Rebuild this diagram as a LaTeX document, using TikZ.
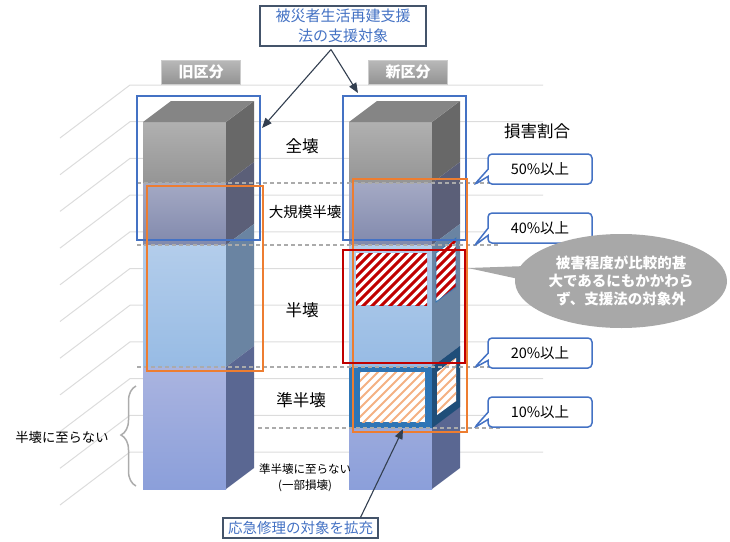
\documentclass[tikz,border=0pt]{standalone}
\usepackage{fontspec}
\setmainfont{Noto Sans CJK JP}
\usetikzlibrary{arrows.meta,shapes.callouts,decorations.pathreplacing}

\definecolor{gridgray}{HTML}{DCDCDC}
\definecolor{dashgray}{HTML}{ABABAB}
\definecolor{lawblue}{HTML}{4472C4}
\definecolor{aidorange}{HTML}{ED7D31}
\definecolor{outred}{HTML}{C00000}
\definecolor{hatchorange}{HTML}{F4B183}
\definecolor{slate}{HTML}{333F50}
\definecolor{boxline}{HTML}{44546A}
% face colours of the columns
\definecolor{gT}{HTML}{858585}
\definecolor{gA}{HTML}{B0B0B0}
\definecolor{gB}{HTML}{959595}
\definecolor{gS}{HTML}{686868}
\definecolor{nA}{HTML}{A4A9C4}
\definecolor{nB}{HTML}{8189AC}
\definecolor{nS}{HTML}{5B5F78}
\definecolor{bA}{HTML}{B3CDEB}
\definecolor{bB}{HTML}{97BBE4}
\definecolor{bS}{HTML}{6A84A2}
\definecolor{lA}{HTML}{AAB4E0}
\definecolor{lB}{HTML}{8B9FDA}
\definecolor{lS}{HTML}{5A6792}
\definecolor{fixfront}{HTML}{2E75B6}
\definecolor{fixside}{HTML}{1F4E79}

% hatched area: path, colour, stripe width
\newcommand{\hatcharea}[3]{%
  \fill[white] #1;
  \begin{scope}
    \clip #1;
    \foreach \t in {-262,-253,...,40}
      \draw[#2, line width=#3] (400+\t,450) -- ++(220,-220);
  \end{scope}}

\tikzset{
  gridline/.style={draw=gridgray, line width=1pt},
  dashline/.style={draw=dashgray, line width=1.2pt, dash pattern=on 4pt off 3pt},
  tab/.style={top color=gray!55, bottom color=gray!85, draw=gray!40, text=white,
    minimum width=79pt, minimum height=24pt, inner sep=0pt,
    font=\fontsize{15}{18}\selectfont\bfseries},
  notebox/.style={draw=boxline, line width=1.1pt, fill=white, text=lawblue, align=center,
    inner sep=0pt, font=\fontsize{15}{20}\selectfont},
  arr/.style={draw=slate, line width=1.1pt, -{Triangle[length=10pt,width=8pt]}},
  pct/.style={rectangle callout, draw=lawblue, line width=1.5pt, rounded corners=4pt,
    fill=white, minimum width=104pt, minimum height=30pt, inner sep=0pt,
    font=\fontsize{14.5}{17}\selectfont},
  row/.style={font=\fontsize{16.5}{19}\selectfont}
}

\begin{document}
\begin{tikzpicture}[x=1pt,y=-1pt]
  \useasboundingbox (0,0) rectangle (730,541);
  % Grid of the 3D chart
  \foreach \k in {0,...,10}{
    \draw[gridline] (60,138+36.7*\k) -- (130,85+36.7*\k) -- (543,85+36.7*\k);
  }
  % Columns
  \foreach \cx in {143,349}{
    \foreach \ya/\yb/\fa/\fb/\fs in {122/183/gA/gB/gS, 183/245/nA/nB/nS, 245/367/bA/bB/bS, 367/489/lA/lB/lS}{
      \fill[top color=\fa, bottom color=\fb] (\cx,\ya) rectangle (\cx+83,\yb);
      \fill[\fs] (\cx+83,\ya) -- (\cx+111,\ya-21) -- (\cx+111,\yb-21) -- (\cx+83,\yb) -- cycle;
    }
    \fill[gT] (\cx,122) -- (\cx+28,101) -- (\cx+111,101) -- (\cx+83,122) -- cycle;
  }
  % New column: emergency repair block
  \fill[fixfront] (349,367) rectangle (432,428);
  \fill[fixside] (432,367) -- (460,346) -- (460,407) -- (432,428) -- cycle;
  \hatcharea{(360,372) rectangle (425,422)}{hatchorange}{1.8pt}
  \hatcharea{(437,372) -- (456,358) -- (456,401) -- (437,415) -- cycle}{hatchorange}{1.8pt}
  % New column: not covered part
  \hatcharea{(356,253) rectangle (427,305)}{outred}{3pt}
  \hatcharea{(436,253) -- (456,238) -- (456,287) -- (436,302) -- cycle}{outred}{3pt}
  \draw[fixfront, line width=0.8pt] (436,253) -- (456,238) -- (456,287) -- (436,302) -- cycle;
  % Damage thresholds
  \draw[dashline] (137,183) -- (500,183);
  \draw[dashline] (137,245) -- (500,245);
  \draw[dashline] (137,367) -- (500,367);
  \draw[dashline] (258,428) -- (500,428);
  % Frames
  \draw[lawblue, line width=1.3pt] (137,96) rectangle (260,240);
  \draw[lawblue, line width=1.3pt] (343,96) rectangle (466,240);
  \draw[aidorange, line width=1.5pt] (147,186) rectangle (263,371);
  \draw[aidorange, line width=1.5pt] (353,179) rectangle (467,432);
  \draw[outred, line width=2.2pt] (343,250) rectangle (465,363);
  % Headers
  \node[tab] (oldtab) at (201,72) {旧区分};
  \node[tab] (newtab) at (408,72) {新区分};
  % Row labels
  \node[row] (zenkai) at (302,146) {全壊};
  \node[font=\fontsize{14.5}{17}\selectfont] (daikibo) at (305,212) {大規模半壊};
  \node[row] (hankai) at (302,310) {半壊};
  \node[row] (junhankai) at (301,400) {準半壊};
  \node[align=center, font=\fontsize{11.5}{16}\selectfont] (ichibu) at (305,478) {準半壊に至らない\\(一部損壊)};
  \node[font=\fontsize{16.5}{19}\selectfont] (ratio) at (537,131) {損害割合};
  \node[font=\fontsize{13.3}{16}\selectfont] (notyet) at (62,437) {半壊に至らない};
  \draw[draw=gray!65, line width=1.5pt, decorate, decoration={brace, amplitude=15pt, aspect=0.51}]
    (136,486) -- (136,386);
  % Callouts
  \node[pct, callout absolute pointer={(474,185)}] (p50) at (540,169) {50\%以上};
  \node[pct, callout absolute pointer={(474,246)}] (p40) at (540,228) {40\%以上};
  \node[pct, callout absolute pointer={(474,368)}] (p20) at (540,353) {20\%以上};
  \node[pct, callout absolute pointer={(474,428)}] (p10) at (540,412) {10\%以上};
  \node[ellipse callout, fill=gray!68, minimum width=212pt, minimum height=94pt, inner sep=0pt,
    callout absolute pointer={(468,268)}, text=white, align=center,
    font=\fontsize{14.5}{18}\selectfont\bfseries] (outside) at (621,281)
    {被害程度が比較的甚\\大であるにもかかわら\\ず、支援法の対象外};
  % Notes with arrows
  \node[notebox, minimum width=166pt, minimum height=40pt] (law) at (343,26) {被災者生活再建支援\\法の支援対象};
  \coordinate (oldtip) at (262,128);
  \coordinate (newtip) at (358,93);
  \draw[arr] ([xshift=-12pt,yshift=-3pt]law.south) -- (oldtip);
  \draw[arr] ([xshift=-12pt,yshift=-3pt]law.south) -- (newtip);
  \node[notebox, minimum width=155pt, minimum height=20pt, font=\fontsize{14.5}{17}\selectfont] (fix) at (300.5,528) {応急修理の対象を拡充};
  \coordinate (fixtip) at (403,429);
  \draw[arr] ([xshift=60pt]fix.north) -- (fixtip);
\end{tikzpicture}
\end{document}
